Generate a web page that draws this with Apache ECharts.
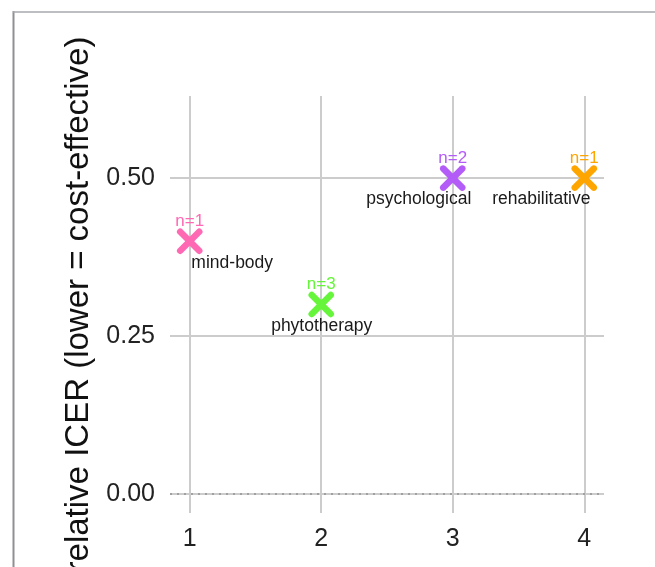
<!DOCTYPE html>
<html>
<head>
<meta charset="utf-8">
<script src="https://cdn.jsdelivr.net/npm/echarts@6/dist/echarts.min.js"></script>
<style>html,body{margin:0;padding:0;background:#fff}#c{width:655px;height:567px}</style>
</head>
<body>
<div id="c"></div>
<script>
const categories = ['mind-body', 'phytotherapy', 'psychological', 'rehabilitative'];
const xValues = [1, 2, 3, 4];
const icerValues = [0.40, 0.30, 0.50, 0.50];
const countLabels = ['n=1', 'n=3', 'n=2', 'n=1'];
const xTicks = [1, 2, 3, 4];
const yTicks = [0, 0.25, 0.5];
const colors = ['#ff69b4', '#66f53a', '#b45cf7', '#ffa500'];
// label placement (pixel nudges, like ggrepel)
const nameNudge = [[42.5, 22], [0.5, 22], [-34, 21], [-43, 21]];

const chart = echarts.init(document.getElementById('c'), null, {renderer: 'canvas'});
const font = '"Liberation Sans", Arial, sans-serif';

const data = categories.map((c, i) => [xValues[i], icerValues[i], i]);

chart.setOption({
  animation: false,
  graphic: [
    {type: 'line', silent: true, z: -10, shape: {x1: 13.5, y1: 11, x2: 13.5, y2: 567},
      style: {stroke: '#8f9096', lineWidth: 2}},
    {type: 'line', silent: true, z: -10, shape: {x1: 13, y1: 12, x2: 655, y2: 12},
      style: {stroke: '#a7a8ae', lineWidth: 1.5}}
  ],
  grid: {left: 170, right: 51, top: 96, bottom: 54, containLabel: false, outerBoundsMode: 'none'},
  xAxis: {
    type: 'value', min: 0.85, max: 4.15,
    axisLine: {show: false},
    axisTick: {show: false, customValues: xTicks},
    axisLabel: {customValues: xTicks, color: '#222', fontSize: 25, fontFamily: font, margin: 14},
    splitLine: {show: true, lineStyle: {color: '#cccccc', width: 2}}
  },
  yAxis: {
    type: 'value', min: -0.03, max: 0.63,
    name: 'relative ICER (lower = cost-effective)',
    nameLocation: 'middle', nameGap: 71,
    nameTextStyle: {fontSize: 33, color: '#111', fontFamily: font},
    axisLine: {show: false},
    axisTick: {show: false, customValues: yTicks},
    axisLabel: {customValues: yTicks, color: '#222', fontSize: 25, fontFamily: font, margin: 15,
      formatter: v => v.toFixed(2)},
    splitLine: {show: true, lineStyle: {color: '#cccccc', width: 2}}
  },
  series: [{
    type: 'custom',
    data: data,
    encode: {x: 0, y: 1},
    markLine: {
      silent: true, symbol: 'none', label: {show: false},
      lineStyle: {color: '#a0a0a0', type: [2, 5], width: 2},
      data: [{yAxis: 0}]
    },
    renderItem: function (params, api) {
      const i = api.value(2);
      const p = api.coord([api.value(0), api.value(1)]);
      const r = 9.5;
      const col = colors[i];
      const ls = {stroke: col, lineWidth: 6.5, lineCap: 'round'};
      return {
        type: 'group',
        children: [
          {type: 'line', shape: {x1: p[0] - r, y1: p[1] - r, x2: p[0] + r, y2: p[1] + r}, style: ls},
          {type: 'line', shape: {x1: p[0] - r, y1: p[1] + r, x2: p[0] + r, y2: p[1] - r}, style: ls},
          {type: 'text', x: p[0], y: p[1] - 20, style: {text: countLabels[i], fill: col, fontSize: 17,
            fontFamily: font, align: 'center', verticalAlign: 'middle'}},
          {type: 'text', x: p[0] + nameNudge[i][0], y: p[1] + nameNudge[i][1], style: {text: categories[i],
            fill: '#1a1a1a', fontSize: 17.5, fontFamily: font, align: 'center', verticalAlign: 'middle'}}
        ]
      };
    }
  }]
});
</script>
</body>
</html>
